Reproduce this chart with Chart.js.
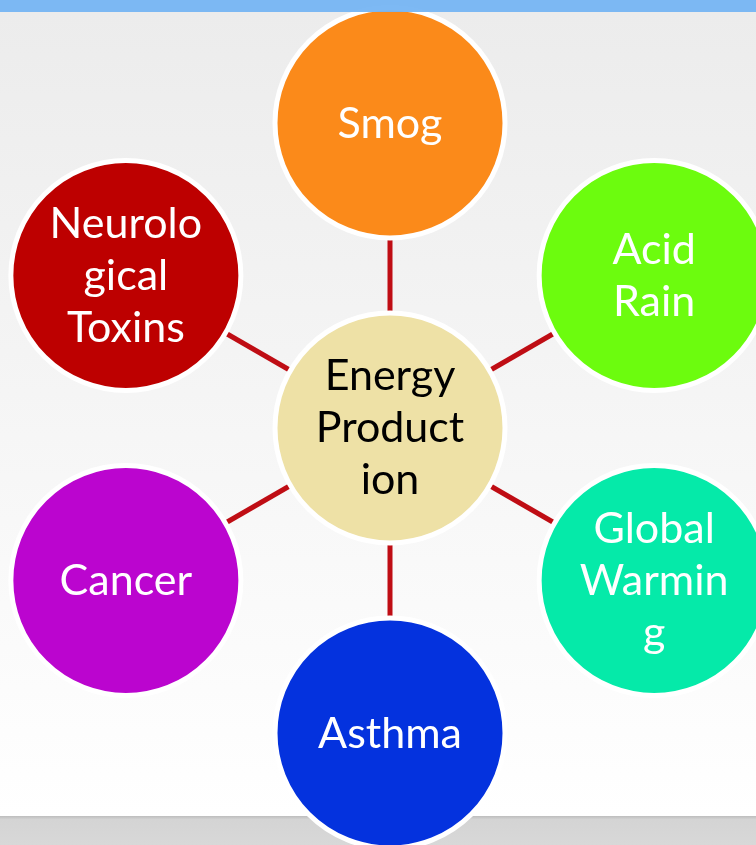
<!DOCTYPE html>
<html>
<head>
<meta charset="utf-8">
<script src="https://cdn.jsdelivr.net/npm/chart.js@4"></script>
<style>
  html, body { margin: 0; padding: 0; background: #fff; }
  #wrap { width: 756px; height: 845px; position: relative; }
</style>
</head>
<body>
<div id="wrap"><canvas id="myChart"></canvas></div>
<script>
// centre node + six outer nodes (angle in degrees, 90 = straight up)
const centerLabel = ['Energy', 'Product', 'ion'];
const nodeLabels = [
    ['Smog'],
    ['Acid', 'Rain'],
    ['Global', 'Warmin', 'g'],
    ['Asthma'],
    ['Cancer'],
    ['Neurolo', 'gical', 'Toxins']
];
const nodeAngles = [90, 30, -30, -90, -150, 150];
const nodeDistance = [1, 1, 1, 1, 1, 1];

const nodeColors = ['#fb8a1a', '#6cfc0e', '#05eaa9', '#0432de', '#bb05cf', '#bd0000'];
const centerColor = '#eee1a6';
const spokeColor = '#bf0d14';

const points = nodeAngles.map((a, i) => ({
    x: Math.cos(a * Math.PI / 180) * nodeDistance[i],
    y: Math.sin(a * Math.PI / 180) * nodeDistance[i]
}));

const spokes = points.map(p => ({
    type: 'line',
    data: [{ x: 0, y: 0 }, p],
    borderColor: spokeColor,
    borderWidth: 5,
    pointRadius: 0,
    clip: false,
    order: 3
}));

const backdrop = {
    id: 'backdrop',
    beforeDraw(chart) {
        const c = chart.ctx;
        const w = chart.width, h = chart.height;
        c.save();
        const g = c.createLinearGradient(0, 12, 0, 816);
        g.addColorStop(0, '#ececec');
        g.addColorStop(1, '#ffffff');
        c.fillStyle = g;
        c.fillRect(0, 0, w, h);
        const g2 = c.createLinearGradient(0, 816, 0, h);
        g2.addColorStop(0, '#bdbdbd');
        g2.addColorStop(0.12, '#d4d4d4');
        g2.addColorStop(1, '#d8d8d8');
        c.fillStyle = g2;
        c.fillRect(0, 816, w, h - 816);
        c.restore();
    },
    afterDatasetsDraw(chart) {
        const c = chart.ctx;
        c.save();
        c.textAlign = 'center';
        c.textBaseline = 'middle';
        c.font = '43px Lato';
        const lh = 52;
        const drawText = (lines, x, y, color) => {
            c.fillStyle = color;
            lines.forEach((t, k) => {
                c.fillText(t, x, y + (k - (lines.length - 1) / 2) * lh);
            });
        };
        const nodes = chart.getDatasetMeta(0).data;
        nodes.forEach((el, i) => drawText(nodeLabels[i], el.x, el.y + 1, '#ffffff'));
        const mid = chart.getDatasetMeta(1).data[0];
        drawText(centerLabel, mid.x, mid.y, '#000000');

        c.fillStyle = 'rgba(118, 181, 243, 0.95)';
        c.fillRect(0, 0, chart.width, 12);
        c.restore();
    }
};

new Chart(document.getElementById('myChart'), {
    type: 'scatter',
    data: {
        datasets: [
            {
                data: points,
                pointRadius: 115,
                pointBackgroundColor: nodeColors,
                pointBorderColor: '#ffffff',
                pointBorderWidth: 5,
                clip: false,
                order: 2
            },
            {
                data: [{ x: 0, y: 0 }],
                pointRadius: 115,
                pointBackgroundColor: centerColor,
                pointBorderColor: '#ffffff',
                pointBorderWidth: 5,
                clip: false,
                order: 1
            },
            ...spokes
        ]
    },
    options: {
        responsive: true,
        maintainAspectRatio: false,
        animation: false,
        events: [],
        layout: { padding: 0, autoPadding: false },
        plugins: {
            legend: { display: false },
            tooltip: { enabled: false }
        },
        scales: {
            x: { display: false, min: -390 / 305, max: 366 / 305 },
            y: { display: false, min: -417 / 305, max: 428 / 305 }
        }
    },
    plugins: [backdrop]
});
</script>
</body>
</html>
